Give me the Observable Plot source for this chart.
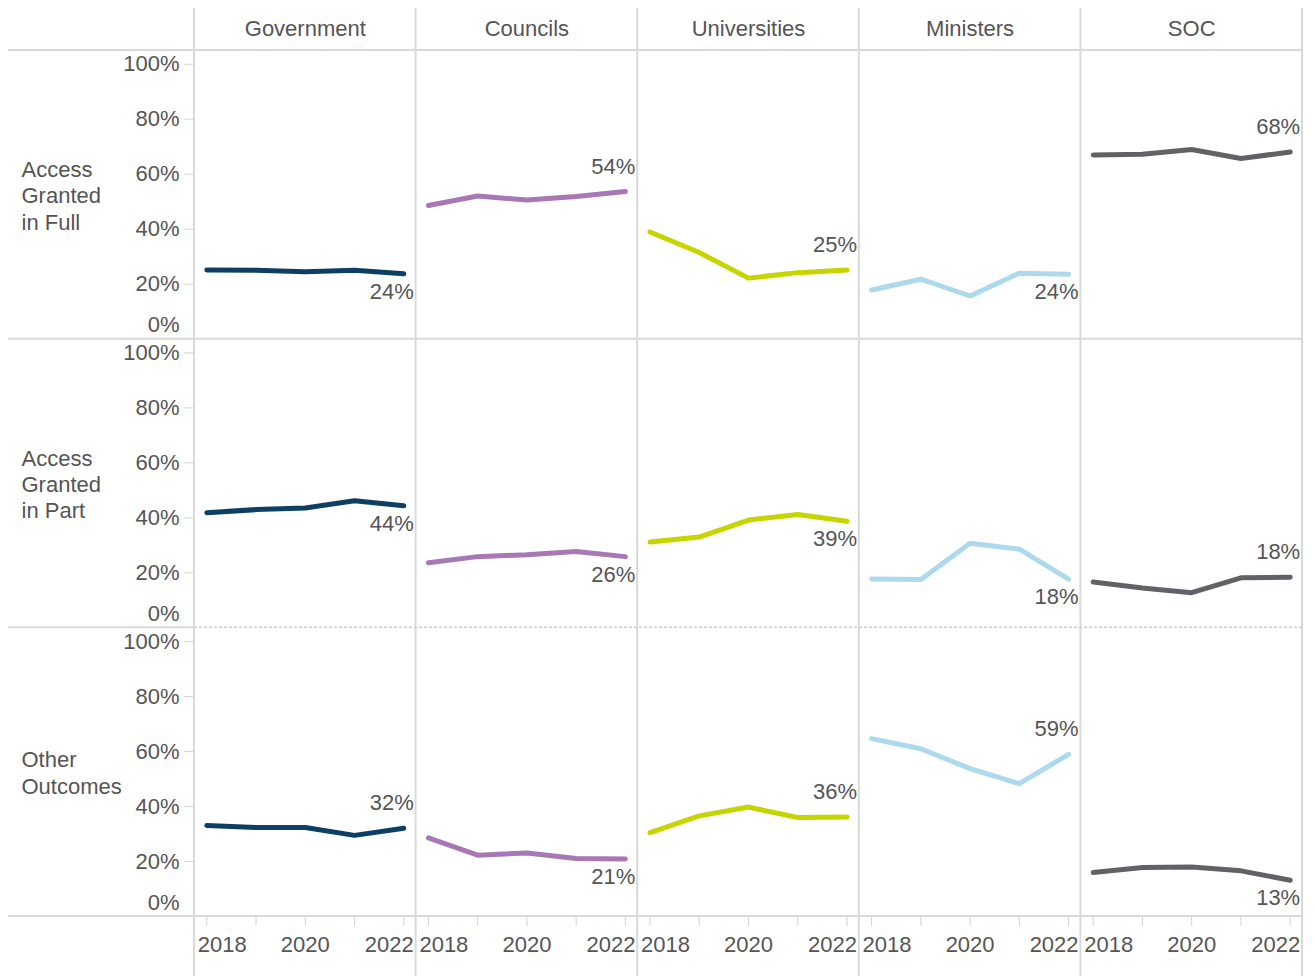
<!DOCTYPE html>
<html>
<head>
<meta charset="utf-8">
<script src="https://cdn.jsdelivr.net/npm/d3@7"></script>
<script src="https://cdn.jsdelivr.net/npm/@observablehq/plot@0.6"></script>
<style>
  body { margin: 0; background: #fff; }
</style>
</head>
<body>
<div id="chart"></div>
<script>
// ---- Data ----
const columns = ["Government", "Councils", "Universities", "Ministers", "SOC"];
const rows = ["Access Granted in Full", "Access Granted in Part", "Other Outcomes"];
const rowLabels = ["Access\nGranted\nin Full", "Access\nGranted\nin Part", "Other\nOutcomes"];
const years = [2018, 2019, 2020, 2021, 2022];
const seriesColors = ["#0c3f63", "#a877b5", "#c6d400", "#add9ec", "#5f6368"];

// values (%) per column, in column order, for each year
const accessFull = [
  [25.2, 25.1, 24.5, 25.1, 23.8],
  [48.6, 52.1, 50.6, 51.9, 53.7],
  [39.0, 31.5, 22.2, 24.2, 25.2],
  [17.9, 21.8, 15.7, 24.0, 23.6],
  [67.0, 67.3, 69.0, 65.7, 68.1]
];
const accessPart = [
  [41.9, 43.0, 43.6, 46.2, 44.4],
  [23.7, 25.9, 26.6, 27.8, 25.9],
  [31.2, 33.0, 39.2, 41.2, 38.8],
  [17.8, 17.6, 30.8, 28.6, 17.7],
  [16.7, 14.5, 12.8, 18.2, 18.4]
];
const otherOutcomes = [
  [33.1, 32.4, 32.4, 29.5, 32.1],
  [28.6, 22.3, 23.1, 21.1, 20.9],
  [30.5, 36.6, 39.8, 36.0, 36.2],
  [64.7, 61.0, 53.8, 48.3, 59.0],
  [16.0, 17.8, 18.0, 16.6, 13.2]
];
// where the end label sits relative to the line end
const fullLabelPos = ["below", "above", "above", "below", "above"];
const partLabelPos = ["below", "below", "below", "below", "above"];
const otherLabelPos = ["above", "below", "above", "above", "below"];
const yTicks = [20, 40, 60, 80, 100];

// ---- Build tidy tables ----
const outcomeValues = [accessFull, accessPart, otherOutcomes];
const labelPositions = [fullLabelPos, partLabelPos, otherLabelPos];
const data = rows.flatMap((row, r) => columns.flatMap((col, c) =>
  years.map((year, i) => ({row, col, year, value: outcomeValues[r][c][i]}))));
const endLabels = rows.flatMap((row, r) => columns.map((col, c) => ({
  row, col, year: years[years.length - 1],
  value: outcomeValues[r][c][years.length - 1],
  pos: labelPositions[r][c]
})));
const rowLabelData = rows.map((row, i) => ({row, col: columns[0], label: rowLabels[i]}));
const pct = d => `${d}%`;
const textColor = "#555555";
const tickColor = "#d4d4d4";

const plot = Plot.plot({
  width: 1314,
  height: 976,
  marginTop: 50,
  marginBottom: 60,
  marginLeft: 194,
  marginRight: 12,
  style: {fontFamily: "'Liberation Sans', Arial, sans-serif", fontSize: "22px", color: textColor, background: "#fff", overflow: "visible"},
  fx: {domain: columns, padding: 0, round: false, axis: null},
  fy: {domain: rows, padding: 0, round: false, axis: null},
  x: {domain: [2017.75, 2022.25], axis: null},
  y: {domain: [0, 105], axis: null},
  color: {domain: columns, range: seriesColors},
  marks: [
    Plot.axisFx({anchor: "top", tickSize: 0, tickPadding: 15, label: null}),
    Plot.axisY({ticks: yTicks, tickFormat: pct, tickSize: 10, tickPadding: 5, stroke: tickColor, label: null}),
    Plot.axisY({ticks: [0], tickFormat: pct, tickSize: 0, tickPadding: 15, dy: -14, label: null}),
    Plot.axisX({ticks: years, tickSize: 10, stroke: tickColor, tickFormat: () => "", label: null}),
    Plot.axisX({ticks: [2020], tickSize: 0, tickPadding: 20, tickFormat: d => String(d), label: null}),
    Plot.axisX({ticks: [2018], tickSize: 0, tickPadding: 20, tickFormat: d => String(d), textAnchor: "start", dx: -9, label: null}),
    Plot.axisX({ticks: [2022], tickSize: 0, tickPadding: 20, tickFormat: d => String(d), textAnchor: "end", dx: 10, label: null}),
    Plot.line(data, {x: "year", y: "value", fx: "col", fy: "row", z: "col", stroke: "col",
      strokeWidth: 5, strokeLinecap: "round", strokeLinejoin: "round"}),
    Plot.text(endLabels.filter(d => d.pos === "above"), {x: "year", y: "value", fx: "col", fy: "row",
      text: d => pct(Math.round(d.value)), textAnchor: "end", dx: 10, dy: -25, fill: textColor}),
    Plot.text(endLabels.filter(d => d.pos === "below"), {x: "year", y: "value", fx: "col", fy: "row",
      text: d => pct(Math.round(d.value)), textAnchor: "end", dx: 10, dy: 18, fill: textColor}),
    Plot.text(rowLabelData, {fx: "col", fy: "row", text: "label", frameAnchor: "left",
      textAnchor: "start", dx: -173, lineHeight: 1.2, fill: textColor})
  ]
});

// ---- Table-style grid lines, positioned from the facet scales ----
const fx = plot.scale("fx"), fy = plot.scale("fy");
const xs = columns.map(c => fx.apply(c));
xs.push(xs[xs.length - 1] + fx.bandwidth);
const ys = rows.map(r => fy.apply(r));
ys.push(ys[ys.length - 1] + fy.bandwidth);
const svg = d3.select(plot);
const g = svg.append("g").attr("stroke", "#d9d9d9").attr("stroke-width", 2).attr("fill", "none");
xs.forEach(x => g.append("line").attr("x1", x).attr("x2", x).attr("y1", 8).attr("y2", 976));
ys.forEach((y, i) => {
  if (i === 2) {
    g.append("line").attr("x1", 8).attr("x2", xs[0]).attr("y1", y).attr("y2", y);
    g.append("line").attr("x1", xs[0]).attr("x2", xs[xs.length - 1]).attr("y1", y).attr("y2", y)
      .attr("stroke", "#cfcfcf").attr("stroke-width", 1.5).attr("stroke-dasharray", "3,2");
  } else {
    g.append("line").attr("x1", 8).attr("x2", xs[xs.length - 1]).attr("y1", y).attr("y2", y);
  }
});

document.getElementById("chart").appendChild(plot);
</script>
</body>
</html>
